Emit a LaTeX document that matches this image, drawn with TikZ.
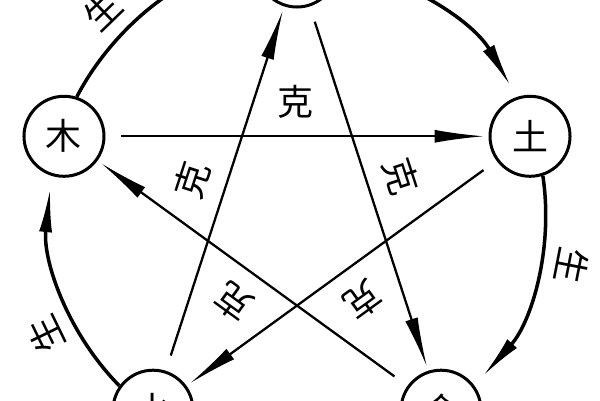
\documentclass[tikz,border=0pt]{standalone}
\usepackage{fontspec}
\newfontfamily\cjk{Noto Sans CJK SC}
\usetikzlibrary{arrows.meta}
\tikzset{
  element/.style = {circle,draw,line width=3pt,minimum size=80pt,inner sep=0pt,
    font=\cjk\fontsize{36}{36}\selectfont},
  zi/.style = {inner sep=0pt,font=\cjk\fontsize{36}{36}\selectfont},
  sheng/.style = {line width=3.5pt,-{Latex[length=44pt,width=13pt]}},
  ke/.style = {line width=2.3pt,-{Latex[length=50pt,width=13pt]},shorten <=16pt,shorten >=4pt}
}

\begin{document}
\begin{tikzpicture}[x=1pt,y=1pt]
  \useasboundingbox (0,0) rectangle (600,400);
  \clip (0,0) rectangle (600,400);
  \begin{scope}[shift={(297,188)}]
  \node[element] (huo) at (90:245) {火};
  \node[element] (mu) at (162:245) {木};
  \node[element] (shui) at (234:245) {水};
  \node[element] (jin) at (306:245) {金};
  \node[element] (tu) at (18:245) {土};
  % sheng
  \draw[sheng] (mu.72) arc[start angle=152.6,end angle=102,radius=245];
  \draw[sheng] (huo.0) arc[start angle=80.6,end angle=30,radius=245];
  \draw[sheng] (tu.-72) arc[start angle=8.6,end angle=-42,radius=245];
  \draw[sheng] (shui.144) arc[start angle=224.6,end angle=174,radius=245];
  \node[zi,rotate=44] (sheng1) at (134:280) {生};
  \node[zi,rotate=-101] (sheng3) at (-11:280) {生};
  \node[zi,rotate=116] (sheng5) at (206:280) {生};
  % ke
  \draw[ke] (mu) -- (tu);
  \draw[ke] (tu) -- (shui);
  \draw[ke] (shui) -- (huo);
  \draw[ke] (huo) -- (jin);
  \draw[ke] (jin) -- (mu);
  \node[zi] (ke1) at (91:110) {克};
  \node[zi,rotate=-72] (ke2) at (19:110) {克};
  \node[zi,rotate=-144] (ke3) at (-53:110) {克};
  \node[zi,rotate=144] (ke4) at (-125:110) {克};
  \node[zi,rotate=72] (ke5) at (163:110) {克};
  \end{scope}
\end{tikzpicture}
\end{document}
